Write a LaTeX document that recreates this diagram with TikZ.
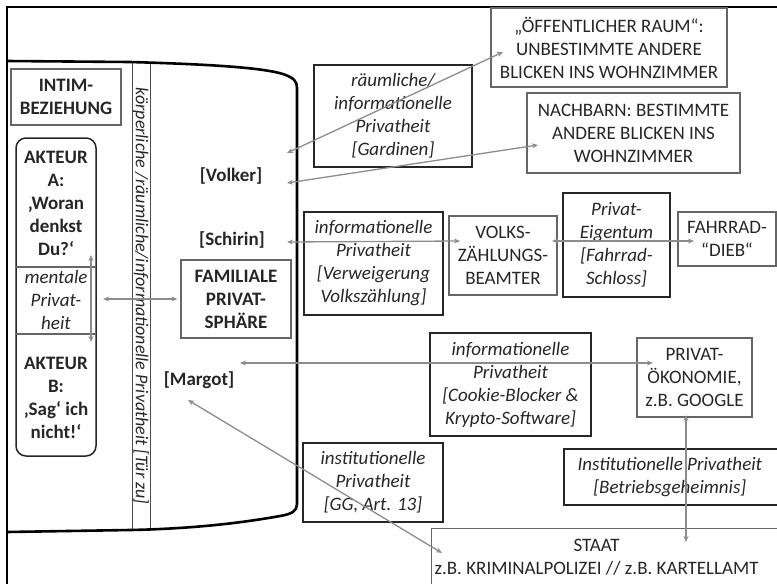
\documentclass[tikz,border=0pt]{standalone}
\usepackage{fontspec}
\setmainfont{Carlito}
\usetikzlibrary{arrows.meta}
\begin{document}
\begin{tikzpicture}[x=1pt,y=-1pt,
  every node/.style={font=\fontsize{19}{23}\selectfont, text=black!85, inner sep=0pt, align=center},
  bfnode/.style={font=\fontsize{19}{23}\selectfont\bfseries},
  itnode/.style={font=\fontsize{19}{23}\selectfont\itshape},
  gbox/.style={draw=black!60, line width=1.3pt},
  dbox/.style={draw=black!85, line width=1.6pt, font=\fontsize{19}{23}\selectfont\itshape},
  conn/.style={draw=black!45, line width=1.3pt, {Stealth[length=6pt,width=5pt]}-{Stealth[length=6pt,width=5pt]}},
  house/.style={line width=2.6pt, draw=black, line join=round},
]
\useasboundingbox (0,0) rectangle (777,584);
% outer frame
\draw[line width=1.2pt] (7,620) -- (7,7) -- (800,7);
% band with rotated text
\node[draw=black!70, line width=0.9pt, rotate=-90, minimum width=468pt, minimum height=18pt, font=\fontsize{18}{20}\selectfont\itshape] (band) at (141,296) {körperliche /räumliche/informationelle Privatheit [Tür zu]};
% house outline
\draw[house] (7,61) -- (130,62) .. controls (200,64) and (260,67) .. (283,74) .. controls (294,78) and (297,81) .. (297,88) -- (297,504) .. controls (297,511) and (292,514) .. (280,516) .. controls (230,525) and (180,529) .. (130,530) -- (7,532);
% left boxes
\node[gbox, bfnode, minimum width=110pt, minimum height=56pt] (intim) at (66,97) {INTIM-\\BEZIEHUNG};
\node[draw=black!85, line width=1.5pt, rounded corners=10pt, minimum width=80pt, minimum height=318pt] (akbox) at (56,297) {};
\draw[black!60, line width=1.2pt] (16,267) -- (96,267);
\draw[black!60, line width=1.2pt] (16,334) -- (96,334);
\node[bfnode] (akA) at (56,203) {AKTEUR\\A:\\‚Woran\\denkst\\Du?‘};
\node[itnode] (ment) at (56,300) {mentale\\Privat-\\heit};
\node[bfnode] (akB) at (56,398) {AKTEUR\\B:\\‚Sag‘ ich\\nicht!‘};
\node[gbox, bfnode, minimum width=110pt, minimum height=78pt] (fam) at (236,299) {FAMILIALE\\PRIVAT-\\SPHÄRE};
% labels
\node[bfnode] (volker) at (231,176) {[Volker]};
\node[bfnode] (schirin) at (232,240) {[Schirin]};
\node[bfnode] (margot) at (199,380) {[Margot]};
% right boxes
\node[gbox, minimum width=236pt, minimum height=79pt] (oeff) at (609,47.5) {„ÖFFENTLICHER RAUM“:\\UNBESTIMMTE ANDERE\\BLICKEN INS WOHNZIMMER};
\node[dbox, minimum width=158pt, minimum height=102pt] (raum) at (393,116) {räumliche/\\informationelle\\Privatheit\\{}[Gardinen]};
\node[gbox, minimum width=213pt, minimum height=80pt] (nach) at (633.5,133) {NACHBARN: BESTIMMTE\\ANDERE BLICKEN INS\\WOHNZIMMER};
\node[dbox, minimum width=139pt, minimum height=103pt] (verw) at (373.5,263.5) {informationelle\\Privatheit\\{}[Verweigerung\\Volkszählung]};
\node[gbox, minimum width=108pt, minimum height=79pt] (volks) at (503,255.5) {VOLKS-\\ZÄHLUNGS-\\BEAMTER};
\node[dbox, minimum width=107pt, minimum height=104pt] (eig) at (616.5,245) {Privat-\\Eigentum\\{}[Fahrrad-\\Schloss]};
\node[gbox, minimum width=98pt, minimum height=54pt] (fahr) at (727,239) {FAHRRAD-\\“DIEB“};
\node[dbox, minimum width=161pt, minimum height=103pt] (cook) at (510.5,384.5) {informationelle\\Privatheit\\{}[Cookie-Blocker \&\\Krypto-Software]};
\node[gbox, minimum width=115pt, minimum height=79pt] (priv) at (694.5,377.5) {PRIVAT-\\ÖKONOMIE,\\z.B. GOOGLE};
\node[dbox, minimum width=140pt, minimum height=79pt] (inst) at (373,482.5) {institutionelle\\Privatheit\\{}[GG, Art. 13]};
\node[dbox, anchor=north west, minimum height=56pt] (betr) at (563,448) {\parbox{212pt}{\centering Institutionelle Privatheit\\{}[Betriebsgeheimnis]}\hspace*{30pt}};
\node[gbox, anchor=north west, minimum height=58pt] (staat) at (431,528) {\parbox{330pt}{\centering STAAT\\z.B. KRIMINALPOLIZEI // z.B. KARTELLAMT}\hspace*{30pt}};
% connector end points
\coordinate (v1) at (91,255); \coordinate (v2) at (91,342);
\coordinate (h1) at (103,299);
\coordinate (p1) at (287,153); \coordinate (q1) at (503,52);
\coordinate (p2) at (287,183); \coordinate (q2) at (538,145);
\coordinate (p3) at (287,242); \coordinate (q3) at (460,241);
\coordinate (p4) at (552,241); \coordinate (q4) at (694,241);
\coordinate (p5) at (240,363); \coordinate (q5) at (653,363);
\coordinate (p6) at (188,400); \coordinate (q6) at (442,553);
\coordinate (p7) at (686,415); \coordinate (q7) at (686,542);
% connectors
\draw[conn] (v1) -- (v2);
\draw[conn] (h1) -- ([xshift=-3pt]fam.west);
\draw[conn] (p1) -- (q1);
\draw[conn] (p2) -- (q2);
\draw[conn] (p3) -- (q3);
\draw[conn] (p4) -- (q4);
\draw[conn] (p5) -- (q5);
\draw[conn] (p6) -- (q6);
\draw[conn] (p7) -- (q7);
\end{tikzpicture}
\end{document}
